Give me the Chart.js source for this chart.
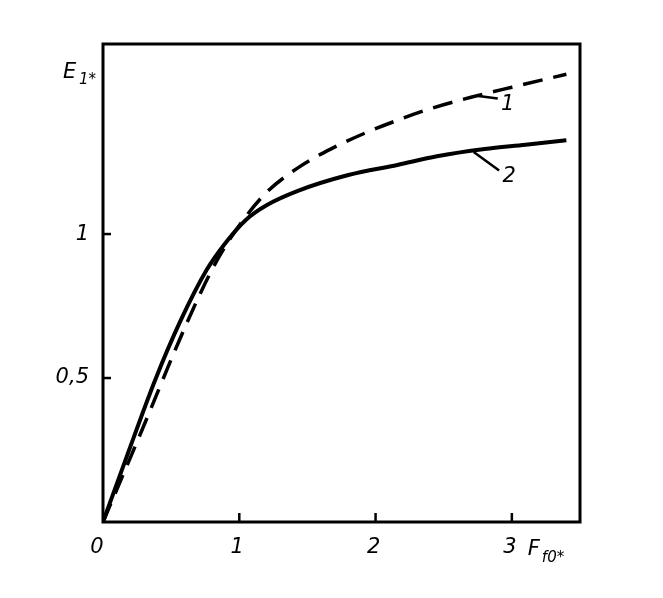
<!DOCTYPE html>
<html>
<head>
<meta charset="utf-8">
<script src="https://cdn.jsdelivr.net/npm/chart.js@4"></script>
<style>
  html, body { margin: 0; padding: 0; background: #fff; }
  #wrap { width: 663px; height: 598px; position: relative; }
</style>
</head>
<body>
<div id="wrap"><canvas id="chart"></canvas></div>
<script>
// curve 1 (dashed) and curve 2 (solid)
const x1 = [0, 0.3, 0.55, 0.72, 0.85, 1.0, 1.19, 1.43, 1.67, 1.92, 2.16, 2.4, 2.7, 3.0, 3.4];
const y1 = [0, 0.335, 0.62, 0.80, 0.92, 1.03, 1.14, 1.23, 1.295, 1.35, 1.395, 1.435, 1.475, 1.51, 1.555];
const x2 = [0, 0.18, 0.38, 0.57, 0.76, 0.9, 1.05, 1.2, 1.43, 1.8, 2.16, 2.45, 2.8, 3.1, 3.4];
const y2 = [0, 0.235, 0.49, 0.70, 0.875, 0.97, 1.05, 1.1, 1.15, 1.205, 1.24, 1.27, 1.295, 1.31, 1.326];

const xTicks = [1, 2, 3];
const xTickLabels = ['1', '2', '3'];
const yTicks = [0.5, 1];
const yTickLabels = ['0,5', '1'];

// curve number labels: [point on curve x, y, label x, y, text]
const curveTags = [
  [2.74, 1.48, 2.97, 1.45, '1'],
  [2.72, 1.285, 2.98, 1.2, '2']
];

const FONT = 'italic 21px "DejaVu Sans", sans-serif';

const frame = {
  id: 'frame',
  afterDatasetsDraw(chart) {
    const { ctx, chartArea: a, scales: { x, y } } = chart;
    ctx.save();
    ctx.strokeStyle = '#000';
    ctx.fillStyle = '#000';
    ctx.lineWidth = 3;
    ctx.strokeRect(a.left, a.top, a.right - a.left, a.bottom - a.top);

    ctx.lineWidth = 2.5;
    xTicks.forEach(v => {
      const px = x.getPixelForValue(v);
      ctx.beginPath(); ctx.moveTo(px, a.bottom); ctx.lineTo(px, a.bottom - 9); ctx.stroke();
    });
    yTicks.forEach(v => {
      const py = y.getPixelForValue(v);
      ctx.beginPath(); ctx.moveTo(a.left, py); ctx.lineTo(a.left + 8, py); ctx.stroke();
    });

    ctx.font = FONT;
    ctx.textAlign = 'center';
    ctx.textBaseline = 'top';
    ctx.fillText('0', a.left - 6, a.bottom + 15);
    xTicks.forEach((v, i) => ctx.fillText(xTickLabels[i], x.getPixelForValue(v) - 2, a.bottom + 15));
    ctx.textAlign = 'right';
    ctx.textBaseline = 'middle';
    yTicks.forEach((v, i) => ctx.fillText(yTickLabels[i], a.left - 14, y.getPixelForValue(v)));

    // axis titles
    ctx.textAlign = 'left';
    ctx.textBaseline = 'alphabetic';
    ctx.fillText('E', a.left - 40, a.top + 34);
    ctx.font = 'italic 15px "DejaVu Sans", sans-serif';
    ctx.fillText('1*', a.left - 24, a.top + 40);
    ctx.font = FONT;
    const fx = x.getPixelForValue(3) + 16;
    ctx.fillText('F', fx, a.bottom + 33);
    ctx.font = 'italic 15px "DejaVu Sans", sans-serif';
    ctx.fillText('f0*', fx + 14, a.bottom + 40);

    // curve tags
    ctx.lineWidth = 2.5;
    curveTags.forEach(t => {
      const px = x.getPixelForValue(t[0]), py = y.getPixelForValue(t[1]);
      const lx = x.getPixelForValue(t[2]), ly = y.getPixelForValue(t[3]);
      ctx.beginPath(); ctx.moveTo(px, py); ctx.lineTo(lx - 10, ly - 6); ctx.stroke();
      ctx.font = FONT;
      ctx.textAlign = 'center';
      ctx.textBaseline = 'middle';
      ctx.fillText(t[4], lx, ly);
    });
    ctx.restore();
  }
};

new Chart(document.getElementById('chart'), {
  type: 'scatter',
  data: {
    datasets: [
      {
        label: '1',
        data: x1.map((v, i) => ({ x: v, y: y1[i] })),
        showLine: true,
        borderColor: '#000',
        borderWidth: 3.5,
        borderDash: [20, 11],
        pointRadius: 0,
        cubicInterpolationMode: 'monotone'
      },
      {
        label: '2',
        data: x2.map((v, i) => ({ x: v, y: y2[i] })),
        showLine: true,
        borderColor: '#000',
        borderWidth: 4,
        pointRadius: 0,
        cubicInterpolationMode: 'monotone'
      }
    ]
  },
  options: {
    responsive: true,
    maintainAspectRatio: false,
    animation: false,
    layout: { padding: { left: 103, right: 83, top: 44, bottom: 76 } },
    plugins: { legend: { display: false }, tooltip: { enabled: false } },
    scales: {
      x: { type: 'linear', min: 0, max: 3.5, display: false },
      y: { type: 'linear', min: 0, max: 1.66, display: false }
    }
  },
  plugins: [frame]
});
</script>
</body>
</html>
